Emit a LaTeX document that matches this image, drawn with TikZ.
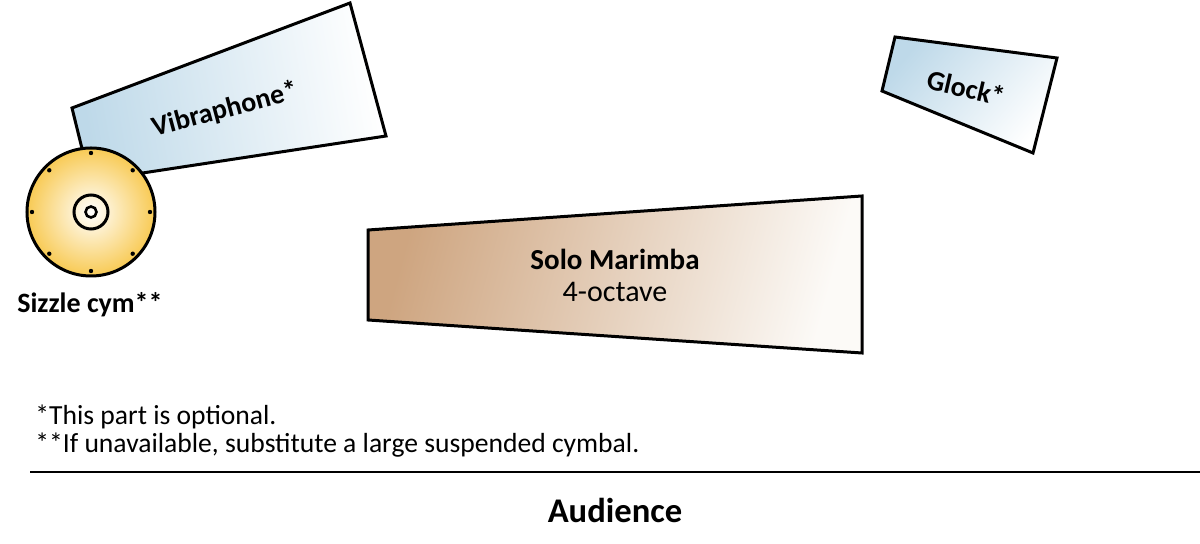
\documentclass[tikz,border=0pt]{standalone}
\usepackage{fontspec}
\setmainfont{Carlito}
\usetikzlibrary{calc}
\definecolor{vibblue}{RGB}{190,217,233}
\definecolor{glockblue}{RGB}{190,217,233}
\definecolor{tan}{RGB}{206,165,128}
\definecolor{paleend}{RGB}{252,250,247}
\definecolor{gold}{RGB}{248,202,84}
\begin{document}
\begin{tikzpicture}[x=0.5pt,y=-0.5pt,
  outl/.style={draw=black,line width=1.5pt,line join=miter},
  lbl/.style={font=\bfseries\fontsize{14}{16}\selectfont,inner sep=0pt},
  note/.style={font=\fontsize{13.8}{16}\selectfont,inner sep=0pt,anchor=base west},
  dotmark/.style={fill=black,circle,inner sep=0pt,minimum size=2.2pt}]
\useasboundingbox (0,0) rectangle (1200,544);
% Vibraphone
\path[outl,shading=axis,top color=vibblue,bottom color=white,shading angle=100]
  (72,108) -- (350,3) -- (386,136) -- (90,181) -- cycle;
\node[lbl,rotate=15] (vib) at (225,110) {Vibraphone*};
% Glock
\path[outl,shading=axis,top color=glockblue,bottom color=white,shading angle=50]
  (895,37) -- (1057,58) -- (1033,153) -- (882,91) -- cycle;
\node[lbl,rotate=-13] (glock) at (966,88) {Glock*};
% Marimba
\path[outl,shading=axis,top color=tan,bottom color=paleend,shading angle=75]
  (368,230) -- (862,196) -- (862,353) -- (368,320) -- cycle;
\node[lbl,font=\bfseries\fontsize{14.5}{17}\selectfont,anchor=base] (mar) at (615,270) {Solo Marimba};
\node[inner sep=0pt,font=\fontsize{15}{17}\selectfont,anchor=base] (oct) at (615,302) {4-octave};
% Cymbal
\shade[inner color=white,outer color=gold] (91,212) circle[radius=64];
\draw[line width=1.5pt] (91,212) circle[radius=64];
\draw[line width=1.5pt] (91,212) circle[radius=17];
\draw[line width=1.3pt] (91,212) circle[radius=5.5];
\foreach \a [count=\i] in {0,45,...,315}
  \node[dotmark] (d\i) at ($(91,212)+(\a:59)$) {};
\node[lbl,anchor=base] (siz) at (90,313) {Sizzle cym**};
% Notes
\node[note] (n1) at (35,425) {*This part is optional.};
\node[note] (n2) at (35,453) {**If unavailable, substitute a large suspended cymbal.};
\coordinate (l1) at (30,472);
\coordinate (l2) at (1200,472);
\draw[line width=1pt] (l1) -- (l2);
\node[inner sep=0pt,anchor=base,font=\bfseries\fontsize{17.3}{19}\selectfont] (aud) at (615,523) {Audience};
\end{tikzpicture}
\end{document}
